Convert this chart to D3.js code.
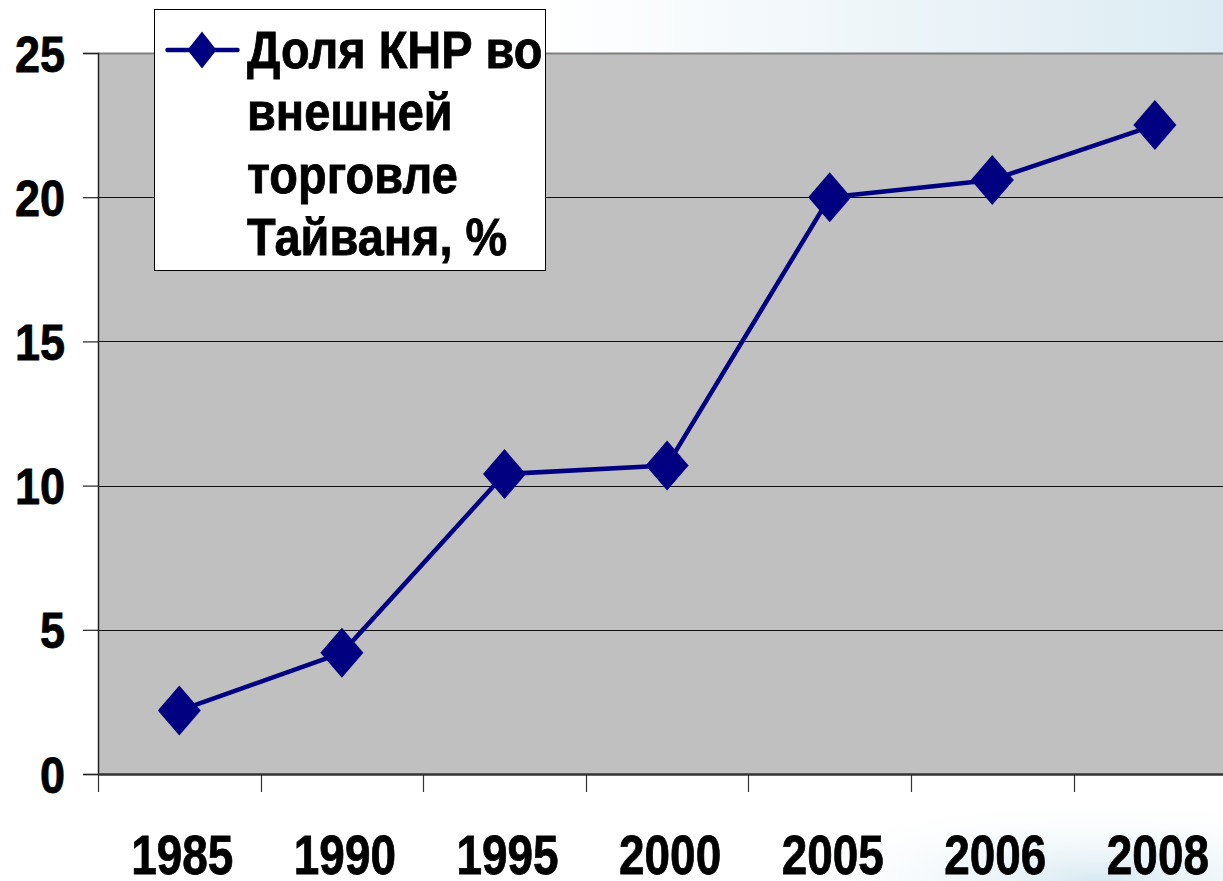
<!DOCTYPE html>
<html>
<head>
<meta charset="utf-8">
<script src="https://cdn.jsdelivr.net/npm/d3@7"></script>
<style>
  body { margin: 0; background: #fff; }
  svg { display: block; font-family: "Liberation Sans", Arial, sans-serif; font-weight: bold; }
  text { stroke: #000; stroke-width: 0.8px; }
</style>
</head>
<body>
<script>
// chart data
var years = ["1985", "1990", "1995", "2000", "2005", "2006", "2008"];
var shares = [2.2, 4.2, 10.4, 10.7, 20.0, 20.6, 22.5];
var yTicks = [0, 5, 10, 15, 20, 25];
var legendLines = ["Доля КНР во", "внешней", "торговле", "Тайваня, %"];

var svgWidth = 1223;
var svgHeight = 881;

var chartMargin = {
    top: 53,
    left: 98,
    bottom: 107
};
var bandStep = 162.6;
var chartWidth = bandStep * years.length;   // runs past the right edge, like the slide
var chartHeight = svgHeight - chartMargin.top - chartMargin.bottom;

var navy = "#000080";

var svg = d3.select("body").append("svg")
    .attr("width", svgWidth)
    .attr("height", svgHeight);

// faint slide background
var defs = svg.append("defs");
var topGrad = defs.append("linearGradient").attr("id", "topGrad");
topGrad.append("stop").attr("offset", "0%").attr("stop-color", "#ffffff");
topGrad.append("stop").attr("offset", "100%").attr("stop-color", "#dcebf3");
var botGrad = defs.append("radialGradient").attr("id", "botGrad")
    .attr("cx", "70%").attr("cy", "100%").attr("r", "80%");
botGrad.append("stop").attr("offset", "0%").attr("stop-color", "#d8e9f2");
botGrad.append("stop").attr("offset", "100%").attr("stop-color", "#ffffff").attr("stop-opacity", 0);

svg.append("rect").attr("x", 546).attr("y", 0).attr("width", 677).attr("height", 53)
    .attr("fill", "url(#topGrad)");
svg.append("rect").attr("x", 800).attr("y", 775).attr("width", 423).attr("height", 106)
    .attr("fill", "url(#botGrad)");

var chartGroup = svg.append("g")
    .attr("transform", `translate(${chartMargin.left}, ${chartMargin.top})`);

var xScale = d3.scaleBand()
    .domain(years)
    .range([0, chartWidth]);

var yScale = d3.scaleLinear()
    .domain([0, 25])
    .range([chartHeight, 0]);

// plot area
chartGroup.append("rect")
    .attr("width", chartWidth)
    .attr("height", chartHeight)
    .attr("fill", "#c0c0c0");

// gridlines
chartGroup.selectAll(".grid")
    .data(yTicks.filter(d => d > 0))
    .enter()
    .append("line")
    .attr("class", "grid")
    .attr("x1", 0)
    .attr("x2", chartWidth)
    .attr("y1", d => Math.round(yScale(d)) + 0.5)
    .attr("y2", d => Math.round(yScale(d)) + 0.5)
    .attr("stroke", d => d === 25 ? "#808080" : "#111")
    .attr("stroke-width", d => d === 25 ? 2 : 1);

// y axis
var yAxis = d3.axisLeft(yScale)
    .tickValues(yTicks)
    .tickSize(15)
    .tickPadding(18);

var yAxisGroup = chartGroup.append("g").call(yAxis);
yAxisGroup.select(".domain").attr("stroke", "#222").attr("stroke-width", 1.5);
yAxisGroup.selectAll(".tick line").attr("stroke", "#222").attr("stroke-width", 1.2);
yAxisGroup.selectAll(".tick text")
    .attr("fill", "#000")
    .style("font-size", "50px")
    .attr("dy", "0.36em")
    .attr("transform", "translate(-33,0) scale(0.9,1) translate(33,0)");

// x axis with ticks between categories
chartGroup.append("line")
    .attr("x1", 0).attr("x2", chartWidth)
    .attr("y1", chartHeight + 0.5).attr("y2", chartHeight + 0.5)
    .attr("stroke", "#333")
    .attr("stroke-width", 2.5);

chartGroup.selectAll(".xtick")
    .data(years)
    .enter()
    .append("line")
    .attr("class", "xtick")
    .attr("x1", d => Math.round(xScale(d)) + 0.5)
    .attr("x2", d => Math.round(xScale(d)) + 0.5)
    .attr("y1", chartHeight)
    .attr("y2", chartHeight + 18)
    .attr("stroke", "#333")
    .attr("stroke-width", 1.2);

chartGroup.selectAll(".xlabel")
    .data(years)
    .enter()
    .append("text")
    .attr("class", "xlabel")
    .attr("text-anchor", "middle")
    .style("font-size", "56px")
    .attr("transform", d => `translate(${xScale(d) + xScale.bandwidth() / 2 + 3}, ${chartHeight + 100}) scale(0.82,1)`)
    .text(d => d);

// series line
var line = d3.line()
    .x((d, i) => xScale(years[i]) + xScale.bandwidth() / 2)
    .y(d => yScale(d));

chartGroup.append("path")
    .datum(shares)
    .attr("d", line)
    .attr("fill", "none")
    .attr("stroke", navy)
    .attr("stroke-width", 4.5)
    .attr("stroke-linejoin", "round");

var diamond = "M0,-25L21.5,0L0,25L-21.5,0Z";
chartGroup.selectAll(".marker")
    .data(shares)
    .enter()
    .append("path")
    .attr("class", "marker")
    .attr("d", diamond)
    .attr("fill", navy)
    .attr("transform", (d, i) => `translate(${xScale(years[i]) + xScale.bandwidth() / 2}, ${yScale(d)})`);

// legend
var legend = svg.append("g").attr("transform", "translate(154.5, 9.5)");
legend.append("rect")
    .attr("width", 391)
    .attr("height", 261)
    .attr("fill", "#fff")
    .attr("stroke", "#000")
    .attr("stroke-width", 1);
legend.append("line")
    .attr("x1", 13).attr("x2", 83)
    .attr("y1", 40.5).attr("y2", 40.5)
    .attr("stroke", navy)
    .attr("stroke-width", 4.5)
    .attr("stroke-linecap", "round");
legend.append("path")
    .attr("d", "M0,-18.5L14.5,0L0,18.5L-14.5,0Z")
    .attr("fill", navy)
    .attr("transform", "translate(47.5, 40.5)");
legend.selectAll(".legtext")
    .data(legendLines)
    .enter()
    .append("text")
    .attr("class", "legtext")
    .style("font-size", "51px")
    .attr("transform", (d, i) => `translate(92.5, ${58.5 + i * 62.3}) scale(0.92,1)`)
    .text(d => d);
</script>
</body>
</html>
